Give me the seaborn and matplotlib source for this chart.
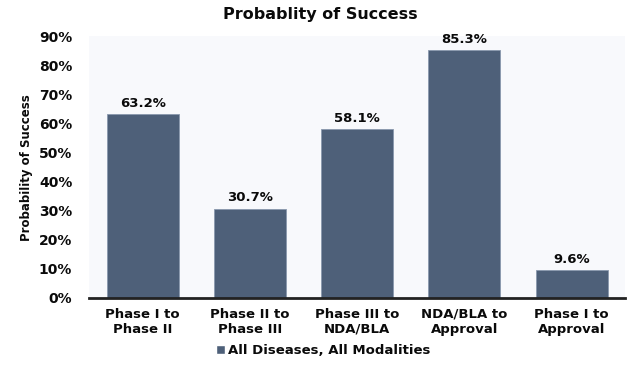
import matplotlib.pyplot as plt
import seaborn as sns
import pandas as pd
from matplotlib.ticker import PercentFormatter
from matplotlib.patches import Patch

stages = ["Phase I to\nPhase II", "Phase II to\nPhase III", "Phase III to\nNDA/BLA",
          "NDA/BLA to\nApproval", "Phase I to\nApproval"]
success = [63.2, 30.7, 58.1, 85.3, 9.6]
series_name = "All Diseases, All Modalities"

data = pd.DataFrame({"stage": stages, "success": success})

sns.set_style("white")
plt.rcParams["font.family"] = ["DejaVu Sans"]
plt.rcParams["font.weight"] = "bold"

bar_color = "#4e6079"
txt_color = "#0a0a0a"

fig = plt.figure(figsize=(6.4, 3.71), dpi=100, facecolor="white")
ax = fig.add_axes([0.139, 0.197, 0.838, 0.705])
ax.set_facecolor("#f8f9fc")

sns.barplot(data=data, x="stage", y="success", color=bar_color, width=0.67,
            edgecolor="#8a98ad", linewidth=0.6, saturation=1, ax=ax)

for i, v in enumerate(success):
    ax.text(i, v + 1.5, "{:.1f}%".format(v), ha="center", va="bottom",
            fontsize=9.5, fontweight="bold", color=txt_color)

ax.set_ylim(0, 90)
ax.set_yticks(range(0, 91, 10))
ax.yaxis.set_major_formatter(PercentFormatter(decimals=0))
ax.tick_params(axis="both", length=0, colors=txt_color)
ax.tick_params(axis="y", pad=12, labelsize=10)
ax.tick_params(axis="x", pad=7, labelsize=9.5)
for lbl in ax.get_xticklabels() + ax.get_yticklabels():
    lbl.set_fontweight("bold")

for side in ["top", "right", "left"]:
    ax.spines[side].set_visible(False)
ax.spines["bottom"].set_color("#222222")
ax.spines["bottom"].set_linewidth(2)

ax.set_xlabel("")
ax.set_ylabel("Probability of Success", fontsize=8.5, fontweight="bold", labelpad=4,
              color=txt_color)

fig.suptitle("Probablity of Success", x=0.5, y=0.98, fontsize=11.5, fontweight="bold",
             color=txt_color)

handles = [Patch(facecolor=bar_color, label=series_name)]
fig.legend(handles=handles, loc="center", bbox_to_anchor=(0.505, 0.055), frameon=False,
           fontsize=9.5, handlelength=0.7, handleheight=0.7, handletextpad=0.2,
           labelcolor=txt_color)

plt.savefig("out.png", dpi=100, facecolor="white")
